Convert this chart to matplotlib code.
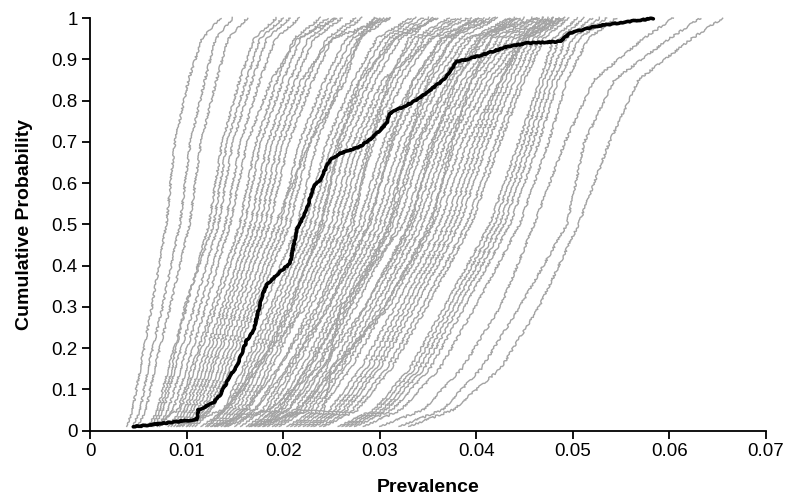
import numpy as np
import matplotlib.pyplot as plt
from matplotlib.ticker import FuncFormatter

plt.rcParams['font.family'] = ['Liberation Sans', 'DejaVu Sans']

# cumulative probability levels at which each simulated curve is given
p_levels = [0.01, 0.05, 0.15, 0.3, 0.5, 0.7, 0.85, 0.95, 1.0]

# prevalence (x 1/1000) reached by each simulated run at the levels above
sim_prev = [
    [3.8, 4.4, 5.2, 6.4, 7.9, 8.8, 10.2, 11.6, 13.5],
    [4.4, 5.2, 6.0, 7.5, 9.3, 10.4, 11.9, 13.0, 14.8],
    [4.9, 5.8, 6.7, 8.3, 10.3, 11.5, 13.1, 14.3, 16.3],
    [6.0, 7.0, 8.1, 10.0, 12.3, 13.7, 15.5, 17.0, 19.3],
    [6.3, 7.3, 8.5, 9.8, 12.8, 14.2, 16.2, 17.6, 20.0],
    [6.6, 7.6, 8.8, 10.8, 13.3, 14.8, 16.8, 18.3, 20.7],
    [7.0, 8.1, 9.4, 11.4, 14.0, 15.6, 17.6, 19.2, 21.7],
    [7.2, 8.6, 10.0, 12.0, 14.5, 16.3, 18.8, 21.5, 25.5],
    [6.5, 9.1, 10.5, 12.7, 15.5, 17.2, 19.4, 21.1, 23.9],
    [8.1, 9.4, 10.8, 13.1, 16.0, 17.7, 20.0, 21.8, 24.6],
    [8.4, 9.8, 11.3, 13.7, 16.6, 18.4, 20.7, 22.6, 25.4],
    [8.7, 10.1, 11.7, 14.1, 17.1, 18.9, 21.3, 23.2, 26.1],
    [9.0, 10.5, 12.1, 14.5, 17.6, 19.5, 21.9, 25.0, 31.0],
    [9.3, 10.8, 12.5, 15.0, 18.1, 20.0, 22.5, 24.5, 27.5],
    [9.6, 11.2, 12.8, 15.4, 18.6, 20.6, 23.1, 25.1, 28.2],
    [10.0, 11.6, 13.3, 15.9, 19.2, 22.8, 26.5, 27.8, 29.5],
    [10.3, 11.9, 13.7, 16.4, 19.7, 21.7, 24.3, 26.5, 29.7],
    [10.6, 12.3, 14.1, 16.8, 20.2, 22.3, 24.9, 27.1, 30.4],
    [10.9, 12.6, 14.5, 17.2, 20.7, 22.8, 25.5, 27.7, 31.1],
    [10.0, 12.5, 15.0, 18.0, 21.5, 23.5, 26.0, 28.0, 30.0],
    [9.0, 13.8, 15.8, 18.7, 22.3, 24.5, 27.3, 29.7, 33.2],
    [12.2, 14.1, 16.2, 19.1, 22.8, 25.1, 27.9, 30.3, 33.8],
    [12.6, 14.5, 16.6, 19.6, 23.3, 25.6, 28.5, 30.9, 34.5],
    [12.9, 14.9, 17.0, 20.0, 23.8, 26.1, 29.0, 31.5, 35.1],
    [11.5, 14.0, 17.5, 20.8, 24.0, 25.8, 28.0, 31.5, 36.0],
    [13.2, 15.3, 17.4, 20.5, 24.3, 26.7, 29.6, 32.1, 35.8],
    [13.6, 15.7, 17.9, 21.0, 24.9, 27.3, 30.3, 35.5, 40.5],
    [13.9, 16.1, 18.4, 21.5, 25.4, 27.8, 30.8, 33.5, 37.2],
    [14.3, 16.4, 18.8, 21.9, 25.9, 28.3, 31.4, 34.1, 37.8],
    [12.0, 14.0, 17.0, 22.4, 26.4, 28.9, 31.9, 34.6, 38.4],
    [15.0, 17.2, 19.6, 22.9, 26.9, 29.4, 32.5, 35.2, 39.1],
    [14.0, 16.0, 19.5, 23.5, 27.3, 29.0, 31.0, 33.0, 35.5],
    [15.6, 17.9, 20.4, 23.7, 27.8, 30.4, 33.5, 36.3, 40.2],
    [12.5, 18.3, 20.9, 24.1, 28.3, 30.9, 34.0, 36.9, 40.8],
    [16.2, 18.7, 21.3, 24.6, 28.8, 31.4, 34.6, 37.5, 41.4],
    [13.0, 17.0, 20.5, 24.8, 29.0, 31.2, 33.5, 36.5, 42.0],
    [16.7, 19.2, 21.9, 25.3, 29.5, 32.1, 35.3, 38.3, 42.2],
    [17.1, 19.7, 22.4, 25.7, 30.0, 32.7, 35.9, 38.9, 46.5],
    [17.4, 20.0, 22.8, 26.2, 30.5, 33.2, 36.4, 39.4, 43.4],
    [16.5, 19.5, 22.5, 26.5, 31.0, 33.0, 35.0, 37.5, 39.5],
    [17.9, 20.5, 23.3, 26.8, 31.1, 33.8, 37.1, 40.1, 44.1],
    [14.0, 18.5, 23.6, 27.0, 31.4, 34.1, 37.4, 40.5, 44.5],
    [18.4, 21.2, 24.1, 27.5, 31.9, 34.6, 37.9, 41.0, 45.0],
    [18.9, 21.7, 24.6, 26.0, 32.5, 35.3, 38.6, 41.7, 45.8],
    [19.2, 22.1, 25.0, 28.5, 33.0, 35.8, 39.1, 42.3, 46.3],
    [17.5, 20.5, 24.0, 28.5, 33.2, 35.5, 38.0, 40.5, 43.5],
    [19.6, 22.5, 25.5, 29.0, 33.5, 36.3, 39.6, 42.8, 46.9],
    [16.5, 22.9, 26.0, 29.5, 34.0, 36.8, 40.2, 43.4, 47.5],
    [20.4, 23.3, 26.4, 30.0, 34.5, 37.3, 40.7, 44.0, 48.0],
    [20.8, 23.8, 27.0, 30.6, 35.1, 37.9, 41.3, 44.6, 48.7],
    [18.0, 21.5, 25.5, 30.5, 35.4, 37.5, 39.5, 41.5, 44.0],
    [21.2, 24.2, 25.0, 31.0, 35.6, 38.5, 41.8, 45.2, 49.2],
    [21.6, 24.8, 28.0, 31.6, 36.2, 39.1, 42.5, 45.0, 48.5],
    [22.1, 25.3, 28.6, 32.2, 36.8, 39.7, 42.6, 44.5, 47.0],
    [22.5, 25.7, 29.1, 32.7, 37.3, 40.2, 43.0, 45.0, 47.5],
    [22.9, 26.2, 29.6, 33.2, 37.8, 40.7, 43.5, 45.5, 48.0],
    [23.2, 26.6, 30.0, 33.7, 38.3, 41.2, 44.0, 46.0, 48.6],
    [23.8, 27.2, 30.7, 34.4, 39.0, 42.0, 44.6, 46.5, 49.0],
    [24.2, 27.7, 31.2, 34.9, 39.5, 42.5, 45.0, 47.0, 49.6],
    [25.7, 29.4, 33.1, 36.7, 41.4, 44.4, 46.6, 48.0, 50.5],
    [26.1, 29.8, 33.6, 37.2, 41.9, 44.9, 47.0, 48.6, 51.2],
    [26.5, 30.3, 34.1, 37.7, 42.4, 45.4, 47.5, 49.3, 52.0],
    [26.9, 30.7, 34.6, 38.2, 42.9, 45.9, 48.0, 50.0, 52.8],
    [27.4, 31.3, 35.2, 38.8, 43.5, 46.5, 48.5, 50.7, 53.5],
    [28.3, 32.2, 36.2, 39.9, 44.5, 47.5, 49.4, 51.6, 54.5],
    [30.0, 34.5, 38.5, 42.5, 46.0, 49.2, 52.2, 57.3, 60.4],
    [32.0, 36.5, 40.5, 44.5, 49.4, 51.2, 54.3, 60.0, 63.2],
    [33.0, 37.6, 42.5, 46.5, 50.6, 53.8, 56.8, 62.3, 65.5],
]

# highlighted run
base_prev = [0.00448, 0.01105, 0.01121, 0.01277, 0.01346, 0.01467, 0.01519,
             0.01623, 0.01691, 0.01778, 0.01830, 0.01967, 0.02071, 0.02140,
             0.02244, 0.02312, 0.02382, 0.02485, 0.02589, 0.02796, 0.02934,
             0.03072, 0.03107, 0.03244, 0.03383, 0.03521, 0.03659, 0.03762,
             0.03797, 0.03935, 0.04108, 0.04315, 0.04522, 0.04867, 0.04971,
             0.05212, 0.05558, 0.05833]
base_prob = [0.009, 0.027, 0.050, 0.067, 0.086, 0.139, 0.155, 0.219, 0.240,
             0.324, 0.353, 0.385, 0.405, 0.486, 0.535, 0.591, 0.607, 0.656,
             0.672, 0.688, 0.712, 0.745, 0.769, 0.785, 0.801, 0.825, 0.850,
             0.882, 0.894, 0.902, 0.914, 0.930, 0.939, 0.943, 0.963, 0.979,
             0.991, 0.999]

fig, ax = plt.subplots(figsize=(7.94, 5.03), dpi=100)
fig.subplots_adjust(left=0.1134, right=0.9647, bottom=0.1441, top=0.9642)

for row in sim_prev:
    line, = ax.plot(np.array(row) / 1000, p_levels, color='#a3a3a3', lw=1.0,
                    clip_on=False)
    # slightly ragged stroke, like a stepped empirical curve
    line.set_sketch_params(scale=1.0, length=5, randomness=10)
black, = ax.plot(base_prev, base_prob, color='black', lw=2.6,
                 solid_joinstyle='round', solid_capstyle='round', clip_on=False)
black.set_sketch_params(scale=0.5, length=6, randomness=8)

ax.set_xlim(0, 0.07)
ax.set_ylim(0, 1)
ax.set_xticks(np.arange(0, 0.0701, 0.01))
ax.set_yticks(np.arange(0, 1.001, 0.1))
fmt = FuncFormatter(lambda v, pos: '{:g}'.format(round(v, 3)))
ax.xaxis.set_major_formatter(fmt)
ax.yaxis.set_major_formatter(fmt)

for side in ['top', 'right']:
    ax.spines[side].set_visible(False)
for side in ['left', 'bottom']:
    ax.spines[side].set_linewidth(1.3)
ax.tick_params(direction='out', length=6, width=1.3, labelsize=13.5, pad=3)

ax.set_xlabel('Prevalence', fontsize=14, fontweight='bold', labelpad=14)
ax.set_ylabel('Cumulative Probability', fontsize=14, fontweight='bold',
              labelpad=13)

fig.savefig('out.png', dpi=100)
